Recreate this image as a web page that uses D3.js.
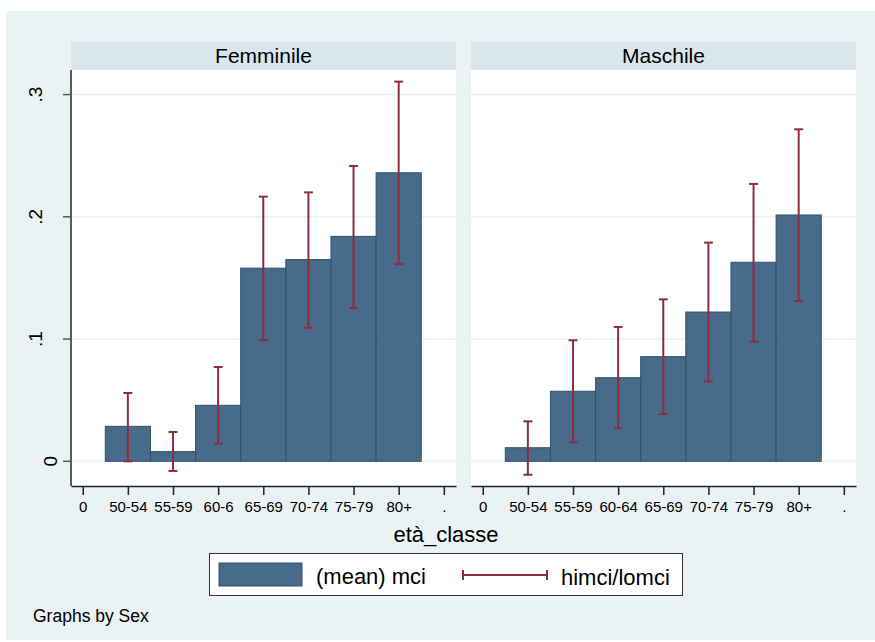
<!DOCTYPE html>
<html lang="it">
<head>
    <meta charset="UTF-8">
    <title>mci by età_classe and Sex</title>
    <style>
        body { margin: 0; background: #ffffff; }
        svg { display: block; font-family: "Liberation Sans", Arial, sans-serif; }
    </style>
</head>
<body>
    <div id="container"></div>

    <script type="text/javascript" src="https://d3js.org/d3.v7.min.js"></script>
    <script type="text/javascript">
        // Data.
        var sexes = ["Femminile", "Maschile"];
        var ageCodes = [1, 2, 3, 4, 5, 6, 7];
        var tickLabelsF = ["0", "50-54", "55-59", "60-6", "65-69", "70-74", "75-79", "80+", "."];
        var tickLabelsM = ["0", "50-54", "55-59", "60-64", "65-69", "70-74", "75-79", "80+", "."];
        var meanF = [0.0286, 0.0079, 0.0458, 0.158, 0.165, 0.184, 0.236];
        var hiF   = [0.0559, 0.024, 0.0771, 0.2165, 0.220, 0.2416, 0.3106];
        var loF   = [0.000, -0.0079, 0.0144, 0.099, 0.1093, 0.1254, 0.1612];
        var meanM = [0.0111, 0.0573, 0.0684, 0.0856, 0.1221, 0.1628, 0.2015];
        var hiM   = [0.0327, 0.099, 0.1099, 0.1325, 0.1789, 0.2269, 0.2716];
        var loM   = [-0.011, 0.0155, 0.027, 0.0387, 0.0654, 0.0979, 0.1311];
        var yTicks = [0, 0.1, 0.2, 0.3];
        var yTickLabels = ["0", ".1", ".2", ".3"];
        var legendLabels = ["(mean) mci", "himci/lomci"];

        var barFill = "#486a8b",
            barStroke = "#2c5175",
            ciColor = "#8f2d3c",
            bgColor = "#eaf2f3",
            stripColor = "#d9e6eb";

        var panels = [
            { name: sexes[0], labels: tickLabelsF, mean: meanF, hi: hiF, lo: loF, left: 71, yAxis: true },
            { name: sexes[1], labels: tickLabelsM, mean: meanM, hi: hiM, lo: loM, left: 471, yAxis: false }
        ];

        var svg = d3.select("#container")
            .append("svg")
            .attr("width", 875)
            .attr("height", 642);

        // Outer graph region.
        svg.append("rect")
            .attr("x", 6).attr("y", 11)
            .attr("width", 869).attr("height", 629)
            .attr("fill", bgColor);

        var plotTop = 70, plotBottom = 486, panelWidth = 385;

        var y = d3.scaleLinear()
            .domain([-0.0202, 0.3201])
            .range([plotBottom, plotTop]);

        var x = d3.scaleLinear()
            .domain([-0.26, 8.27])
            .range([0, panelWidth]);

        panels.forEach(function(p) {
            var g = svg.append("g")
                .attr("transform", "translate(" + p.left + ",0)");

            // Strip header.
            g.append("rect")
                .attr("x", 0).attr("y", 42)
                .attr("width", panelWidth).attr("height", 28)
                .attr("fill", stripColor);
            g.append("text")
                .attr("x", panelWidth / 2).attr("y", 63)
                .attr("text-anchor", "middle")
                .style("font-size", "21px")
                .text(p.name);

            // Plot area.
            g.append("rect")
                .attr("x", 0).attr("y", plotTop)
                .attr("width", panelWidth).attr("height", plotBottom - plotTop)
                .attr("fill", "#ffffff");

            // Grid lines.
            g.selectAll("line.grid")
                .data(yTicks)
                .enter()
                .append("line")
                .attr("class", "grid")
                .attr("x1", 0).attr("x2", panelWidth)
                .attr("y1", function(d) { return y(d); })
                .attr("y2", function(d) { return y(d); })
                .attr("stroke", bgColor)
                .attr("stroke-width", 1.5);

            // Bars.
            g.selectAll("rect.bar")
                .data(ageCodes)
                .enter()
                .append("rect")
                .attr("class", "bar")
                .attr("x", function(d) { return x(d - 0.5); })
                .attr("width", function(d) { return x(d + 0.5) - x(d - 0.5); })
                .attr("y", function(d, i) { return y(p.mean[i]); })
                .attr("height", function(d, i) { return y(0) - y(p.mean[i]); })
                .attr("fill", barFill)
                .attr("stroke", barStroke)
                .attr("stroke-width", 1);

            // Confidence interval bars.
            var ci = g.selectAll("g.ci")
                .data(ageCodes)
                .enter()
                .append("g")
                .attr("class", "ci")
                .attr("stroke", ciColor)
                .attr("stroke-width", 2);
            ci.append("line")
                .attr("x1", function(d) { return x(d); })
                .attr("x2", function(d) { return x(d); })
                .attr("y1", function(d, i) { return y(p.lo[i]); })
                .attr("y2", function(d, i) { return y(p.hi[i]); });
            ["hi", "lo"].forEach(function(k) {
                ci.append("line")
                    .attr("x1", function(d) { return x(d) - 4.5; })
                    .attr("x2", function(d) { return x(d) + 4.5; })
                    .attr("y1", function(d, i) { return y(p[k][i]); })
                    .attr("y2", function(d, i) { return y(p[k][i]); });
            });

            // X axis.
            var xAxis = d3.axisBottom(x)
                .tickValues(d3.range(p.labels.length))
                .tickFormat(function(d) { return p.labels[d]; })
                .tickSize(9)
                .tickSizeOuter(0)
                .tickPadding(6);
            var xg = g.append("g")
                .attr("transform", "translate(0," + plotBottom + ")")
                .call(xAxis);
            xg.select(".domain").attr("stroke", "#222").attr("stroke-width", 1.5);
            xg.selectAll(".tick line").attr("stroke", "#222").attr("stroke-width", 1.5);
            xg.selectAll(".tick text")
                .attr("fill", "#000")
                .style("font-size", "15px")
                .style("font-family", "'Liberation Sans', Arial, sans-serif");

            // Y axis only on the first panel.
            if (p.yAxis) {
                g.append("line")
                    .attr("x1", 0).attr("x2", 0)
                    .attr("y1", plotTop).attr("y2", plotBottom)
                    .attr("stroke", "#5a5a5a")
                    .attr("stroke-width", 2);
                g.selectAll("line.ytick")
                    .data(yTicks)
                    .enter()
                    .append("line")
                    .attr("class", "ytick")
                    .attr("x1", -8).attr("x2", 0)
                    .attr("y1", function(d) { return y(d); })
                    .attr("y2", function(d) { return y(d); })
                    .attr("stroke", "#5a5a5a")
                    .attr("stroke-width", 1.5);
                g.selectAll("text.ylab")
                    .data(yTicks)
                    .enter()
                    .append("text")
                    .attr("class", "ylab")
                    .attr("transform", function(d, i) {
                        var bx = -14 - 15 * (yTickLabels[i].length - 1);
                        return "translate(" + bx + "," + y(d) + ") rotate(-90)";
                    })
                    .attr("text-anchor", "middle")
                    .style("font-size", "19px")
                    .text(function(d, i) { return yTickLabels[i]; });
            }
        });

        // X axis title.
        svg.append("text")
            .attr("x", 446).attr("y", 542)
            .attr("text-anchor", "middle")
            .style("font-size", "22px")
            .text("età_classe");

        // Legend.
        var legend = svg.append("g").attr("class", "legend");
        legend.append("rect")
            .attr("x", 209.5).attr("y", 553.5)
            .attr("width", 473).attr("height", 42)
            .attr("fill", "#ffffff")
            .attr("stroke", "#333")
            .attr("stroke-width", 1);
        legend.append("rect")
            .attr("x", 219).attr("y", 563)
            .attr("width", 83).attr("height", 23)
            .attr("fill", barFill)
            .attr("stroke", barStroke)
            .attr("stroke-width", 1);
        legend.append("text")
            .attr("x", 316).attr("y", 584)
            .style("font-size", "22px")
            .text(legendLabels[0]);
        var key = legend.append("g")
            .attr("stroke", ciColor)
            .attr("stroke-width", 2);
        key.append("line").attr("x1", 463).attr("x2", 547).attr("y1", 575).attr("y2", 575);
        key.append("line").attr("x1", 463).attr("x2", 463).attr("y1", 570).attr("y2", 580);
        key.append("line").attr("x1", 547).attr("x2", 547).attr("y1", 570).attr("y2", 580);
        legend.append("text")
            .attr("x", 561).attr("y", 585)
            .style("font-size", "22px")
            .text(legendLabels[1]);

        // Note.
        svg.append("text")
            .attr("x", 33).attr("y", 622)
            .style("font-size", "17.5px")
            .text("Graphs by Sex");
    </script>
</body>
</html>
